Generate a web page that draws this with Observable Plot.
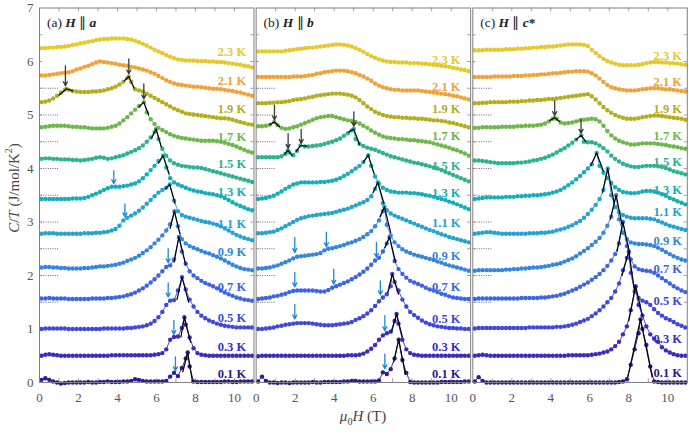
<!DOCTYPE html>
<html><head><meta charset="utf-8">
<script src="https://cdn.jsdelivr.net/npm/d3@7"></script>
<script src="https://cdn.jsdelivr.net/npm/@observablehq/plot@0.6"></script>
<style>body{margin:0;background:#fff;} #chart{width:689px;height:433px;} #chart svg text{font-family:'Liberation Serif',serif;}</style>
</head><body><div id="chart"></div>
<script>
const panels = ["a", "b", "c"];
const temps = ["0.1 K","0.3 K","0.5 K","0.7 K","0.9 K","1.1 K","1.3 K","1.5 K","1.7 K","1.9 K","2.1 K","2.3 K"];
const colors = ["#2d1b8f","#3a2cc2","#3f47dc","#3c64e4","#3585dd","#25a2cf","#17adb8","#2cb28e","#6cb84a","#b4ae1e","#f0a23a","#e6c72c"];
const field = [0.1,0.3,0.5,0.7,0.9,1.1,1.3,1.5,1.7,1.9,2.1,2.3,2.5,2.7,2.9,3.1,3.3,3.5,3.7,3.9,4.1,4.3,4.5,4.7,4.9,5.1,5.3,5.5,5.7,5.9,6.1,6.3,6.5,6.7,6.9,7.1,7.3,7.5,7.7,7.9,8.1,8.3,8.5,8.7,8.9,9.1,9.3,9.5,9.7,9.9,10.1,10.3,10.5,10.7,10.9];
const yTicks = [0,1,2,3,4,5,6,7];
const xTicks = [0,2,4,6,8,10];
const offsets = [0.5,1,1.5,2,2.5,3,3.5,4,4.5,5,5.5];
const yMinor = [0.5,1,1.5,2,2.5,3,3.5,4,4.5,5,5.5,6,6.5];
const xMinor = [1,2,3,4,5,6,7,8,9,10];

const curvesA = [
[0.05,0.08,0.05,0.02,0.00,-0.02,-0.01,0.00,0.00,0.00,0.00,0.00,0.01,0.00,0.00,0.01,0.01,0.02,0.01,0.01,0.01,0.02,0.02,0.03,0.06,0.05,0.03,0.02,0.02,0.02,0.02,0.02,0.03,0.11,0.18,0.12,0.27,0.45,0.3,0.02,0.01,0.01,0.01,0.01,0.01,0.01,0.01,0.02,0.02,0.01,0.01,0.02,0.02,0.02,0.02],
[0.5,0.52,0.53,0.52,0.51,0.5,0.5,0.5,0.5,0.5,0.5,0.5,0.5,0.5,0.5,0.5,0.5,0.5,0.51,0.51,0.51,0.51,0.51,0.51,0.51,0.51,0.51,0.51,0.51,0.52,0.53,0.55,0.62,0.8,0.85,0.86,1.02,1.08,0.84,0.64,0.55,0.52,0.51,0.5,0.5,0.5,0.5,0.5,0.5,0.5,0.5,0.5,0.5,0.5,0.5],
[1.0,1.01,1.01,1.01,1.01,1.01,1.01,1.0,1.0,1.0,1.0,1.0,1.0,1.0,1.0,1.0,1.01,1.01,1.01,1.01,1.01,1.01,1.02,1.02,1.03,1.04,1.05,1.07,1.1,1.15,1.22,1.32,1.45,1.53,1.54,1.72,1.93,1.74,1.55,1.42,1.32,1.25,1.2,1.16,1.13,1.1,1.08,1.06,1.05,1.04,1.03,1.03,1.03,1.03,1.03],
[1.57,1.57,1.58,1.57,1.57,1.57,1.57,1.56,1.56,1.56,1.56,1.56,1.56,1.57,1.57,1.57,1.57,1.58,1.58,1.59,1.6,1.61,1.63,1.65,1.68,1.72,1.76,1.81,1.87,1.93,2.0,2.08,2.16,2.19,2.3,2.66,2.45,2.22,2.08,2.0,1.95,1.9,1.86,1.83,1.8,1.76,1.72,1.68,1.65,1.62,1.59,1.57,1.55,1.54,1.53],
[2.15,2.16,2.16,2.15,2.15,2.14,2.14,2.13,2.13,2.13,2.13,2.14,2.14,2.15,2.16,2.17,2.17,2.18,2.19,2.2,2.22,2.24,2.27,2.3,2.33,2.37,2.42,2.47,2.53,2.6,2.67,2.75,2.84,2.96,3.15,2.92,2.68,2.6,2.55,2.52,2.49,2.46,2.43,2.41,2.38,2.35,2.32,2.28,2.24,2.2,2.17,2.14,2.12,2.11,2.1],
[2.78,2.79,2.79,2.79,2.78,2.78,2.78,2.78,2.78,2.78,2.78,2.79,2.79,2.79,2.8,2.8,2.81,2.82,2.84,2.87,2.93,3.03,3.08,3.12,3.16,3.21,3.27,3.34,3.41,3.48,3.55,3.6,3.64,3.68,3.4,3.2,3.13,3.1,3.08,3.06,3.04,3.02,3.0,2.99,2.97,2.95,2.92,2.88,2.84,2.8,2.76,2.73,2.7,2.68,2.66],
[3.43,3.43,3.43,3.43,3.43,3.43,3.43,3.43,3.44,3.44,3.44,3.45,3.47,3.5,3.53,3.56,3.6,3.63,3.66,3.66,3.66,3.67,3.68,3.7,3.72,3.76,3.82,3.89,3.97,4.05,4.14,4.22,4.02,3.82,3.74,3.7,3.67,3.64,3.61,3.59,3.57,3.56,3.54,3.53,3.52,3.5,3.48,3.45,3.41,3.37,3.33,3.3,3.27,3.24,3.22],
[4.18,4.19,4.19,4.18,4.18,4.17,4.17,4.17,4.16,4.16,4.15,4.16,4.17,4.18,4.2,4.21,4.2,4.18,4.19,4.21,4.23,4.25,4.28,4.31,4.34,4.38,4.43,4.5,4.58,4.68,4.55,4.37,4.24,4.15,4.1,4.07,4.05,4.04,4.03,4.02,4.02,4.01,3.99,3.97,3.95,3.93,3.91,3.89,3.87,3.85,3.83,3.81,3.79,3.77,3.75],
[4.77,4.78,4.79,4.8,4.8,4.8,4.8,4.79,4.78,4.78,4.77,4.77,4.76,4.75,4.75,4.75,4.75,4.76,4.78,4.8,4.84,4.9,4.96,5.03,5.1,5.17,5.22,5.05,4.92,4.83,4.76,4.72,4.68,4.64,4.61,4.59,4.57,4.56,4.55,4.54,4.53,4.52,4.52,4.52,4.52,4.51,4.5,4.48,4.46,4.44,4.41,4.38,4.35,4.32,4.3],
[5.24,5.25,5.27,5.31,5.36,5.42,5.47,5.47,5.45,5.44,5.43,5.43,5.43,5.44,5.44,5.45,5.46,5.48,5.5,5.53,5.57,5.62,5.69,5.62,5.48,5.46,5.44,5.4,5.36,5.32,5.28,5.24,5.2,5.16,5.12,5.09,5.06,5.03,5.02,5.01,5.0,4.99,4.98,4.97,4.96,4.95,4.94,4.94,4.93,4.91,4.89,4.87,4.85,4.83,4.82],
[5.74,5.74,5.75,5.76,5.77,5.78,5.79,5.8,5.82,5.85,5.87,5.9,5.92,5.95,5.98,6.0,5.99,5.98,5.97,5.96,5.94,5.93,5.92,5.9,5.89,5.87,5.85,5.83,5.8,5.77,5.73,5.69,5.65,5.62,5.59,5.57,5.56,5.55,5.54,5.53,5.53,5.52,5.51,5.5,5.49,5.49,5.48,5.47,5.46,5.45,5.43,5.42,5.4,5.38,5.36],
[6.25,6.25,6.26,6.26,6.27,6.27,6.28,6.29,6.31,6.32,6.34,6.35,6.37,6.38,6.4,6.41,6.42,6.42,6.43,6.43,6.43,6.43,6.42,6.41,6.39,6.36,6.33,6.3,6.26,6.22,6.19,6.16,6.12,6.09,6.06,6.04,6.03,6.02,6.02,6.02,6.01,6.01,6.01,6.0,6.0,5.99,5.99,5.98,5.97,5.96,5.95,5.94,5.92,5.91,5.89]
];
const curvesB = [
[0.02,0.11,0.03,0.0,0.0,-0.01,0.0,0.0,-0.01,0.0,0.0,0.0,0.0,0.0,0.01,0.0,0.0,0.01,0.01,0.01,0.01,0.01,0.02,0.02,0.03,0.03,0.02,0.02,0.02,0.02,0.02,0.04,0.19,0.16,0.25,0.45,0.7,0.42,0.18,0.01,0.0,0.0,0.0,0.0,0.0,0.0,0.0,0.01,0.01,0.01,0.01,0.01,0.01,0.02,0.02],
[0.49,0.5,0.5,0.5,0.5,0.5,0.5,0.5,0.5,0.5,0.5,0.5,0.5,0.5,0.5,0.5,0.5,0.5,0.5,0.5,0.5,0.5,0.5,0.51,0.51,0.51,0.52,0.54,0.58,0.63,0.7,0.8,0.88,0.92,0.95,1.15,1.1,0.8,0.62,0.55,0.52,0.51,0.5,0.5,0.5,0.5,0.5,0.5,0.5,0.5,0.5,0.5,0.5,0.5,0.5],
[1.0,1.0,1.01,1.02,1.03,1.05,1.06,1.08,1.09,1.1,1.11,1.11,1.11,1.11,1.1,1.09,1.08,1.07,1.07,1.07,1.08,1.09,1.1,1.11,1.13,1.17,1.2,1.24,1.29,1.35,1.43,1.52,1.59,1.65,1.8,1.88,1.72,1.55,1.42,1.32,1.26,1.21,1.16,1.12,1.09,1.07,1.05,1.04,1.03,1.02,1.02,1.01,1.01,1.0,1.0],
[1.56,1.57,1.58,1.59,1.61,1.62,1.64,1.66,1.69,1.71,1.72,1.72,1.72,1.72,1.72,1.71,1.7,1.7,1.73,1.77,1.8,1.83,1.86,1.89,1.93,1.97,2.02,2.07,2.13,2.2,2.28,2.33,2.45,2.6,2.55,2.27,2.12,2.03,1.96,1.9,1.87,1.84,1.81,1.77,1.74,1.72,1.69,1.66,1.64,1.61,1.59,1.58,1.57,1.56,1.56],
[2.13,2.13,2.14,2.15,2.17,2.19,2.22,2.25,2.28,2.32,2.35,2.36,2.37,2.38,2.39,2.4,2.42,2.47,2.5,2.51,2.53,2.55,2.57,2.6,2.62,2.65,2.68,2.72,2.77,2.83,2.92,3.03,3.2,2.95,2.75,2.62,2.55,2.49,2.45,2.42,2.39,2.37,2.35,2.33,2.31,2.29,2.26,2.24,2.21,2.19,2.17,2.15,2.13,2.11,2.09],
[2.79,2.79,2.8,2.81,2.82,2.85,2.88,2.92,2.96,3.0,3.04,3.07,3.09,3.11,3.12,3.13,3.14,3.15,3.16,3.17,3.19,3.21,3.23,3.25,3.28,3.31,3.34,3.37,3.41,3.48,3.62,3.55,3.35,3.22,3.16,3.12,3.09,3.06,3.03,3.0,2.97,2.94,2.91,2.88,2.85,2.83,2.8,2.77,2.75,2.72,2.7,2.68,2.66,2.64,2.62],
[3.43,3.44,3.45,3.47,3.49,3.53,3.57,3.62,3.66,3.7,3.72,3.74,3.74,3.74,3.74,3.74,3.75,3.75,3.76,3.77,3.79,3.82,3.86,3.9,3.95,4.0,4.05,4.12,4.2,4.05,3.85,3.72,3.64,3.6,3.57,3.56,3.55,3.55,3.55,3.54,3.54,3.53,3.52,3.5,3.49,3.47,3.45,3.43,3.41,3.38,3.36,3.33,3.3,3.27,3.24],
[4.21,4.21,4.21,4.21,4.21,4.21,4.23,4.27,4.3,4.25,4.33,4.42,4.41,4.41,4.42,4.43,4.44,4.46,4.48,4.5,4.53,4.56,4.61,4.66,4.71,4.55,4.46,4.42,4.39,4.37,4.35,4.32,4.29,4.26,4.23,4.21,4.19,4.17,4.15,4.13,4.11,4.1,4.08,4.06,4.04,4.02,4.0,3.97,3.94,3.91,3.88,3.85,3.82,3.79,3.76],
[4.79,4.79,4.8,4.82,4.86,4.81,4.76,4.74,4.75,4.77,4.79,4.82,4.85,4.88,4.91,4.94,4.96,4.97,4.98,4.98,4.96,4.94,4.92,4.9,4.89,4.87,4.84,4.8,4.76,4.71,4.67,4.63,4.6,4.58,4.57,4.56,4.55,4.55,4.54,4.53,4.53,4.52,4.51,4.5,4.49,4.47,4.45,4.43,4.41,4.39,4.36,4.34,4.31,4.28,4.24],
[5.22,5.22,5.22,5.23,5.23,5.24,5.24,5.25,5.26,5.28,5.29,5.3,5.31,5.33,5.34,5.36,5.37,5.38,5.39,5.4,5.4,5.4,5.39,5.38,5.36,5.33,5.28,5.22,5.16,5.11,5.06,5.03,5.0,4.98,4.97,4.96,4.96,4.95,4.95,4.94,4.94,4.93,4.93,4.92,4.91,4.9,4.9,4.89,4.88,4.86,4.85,4.83,4.81,4.79,4.77],
[5.71,5.71,5.71,5.71,5.71,5.71,5.71,5.71,5.71,5.72,5.72,5.72,5.73,5.74,5.75,5.77,5.78,5.8,5.81,5.82,5.83,5.83,5.83,5.82,5.8,5.78,5.75,5.72,5.68,5.64,5.59,5.55,5.52,5.5,5.48,5.47,5.47,5.46,5.46,5.46,5.46,5.46,5.45,5.44,5.43,5.42,5.41,5.4,5.39,5.38,5.36,5.35,5.33,5.31,5.29],
[6.19,6.19,6.19,6.19,6.19,6.19,6.19,6.2,6.21,6.22,6.23,6.24,6.25,6.26,6.26,6.27,6.28,6.29,6.3,6.31,6.32,6.32,6.31,6.3,6.28,6.25,6.22,6.18,6.14,6.1,6.07,6.04,6.02,6.0,5.99,5.99,5.98,5.98,5.98,5.97,5.97,5.97,5.96,5.96,5.95,5.94,5.93,5.92,5.91,5.9,5.88,5.87,5.85,5.84,5.82]
];
const curvesC = [
[0.02,0.1,0.03,0.0,0.0,0.0,0.0,0.0,0.0,0.0,0.0,0.0,0.0,0.0,0.0,0.0,0.0,0.0,0.0,0.0,0.0,0.0,0.0,0.0,0.0,0.0,0.0,0.0,0.0,0.0,0.0,0.0,0.0,0.0,0.0,0.0,0.0,0.01,0.02,0.06,0.33,0.62,0.92,1.0,0.7,0.3,0.02,0.01,0.0,0.0,0.0,0.0,0.0,0.0,0.0],
[0.5,0.51,0.52,0.51,0.5,0.5,0.5,0.5,0.5,0.5,0.5,0.5,0.5,0.5,0.5,0.5,0.5,0.5,0.5,0.5,0.5,0.5,0.5,0.5,0.51,0.51,0.51,0.51,0.51,0.51,0.52,0.53,0.54,0.56,0.58,0.62,0.68,0.76,0.9,1.05,1.35,1.7,1.45,1.25,1.05,0.9,0.82,0.76,0.66,0.6,0.56,0.53,0.51,0.5,0.5],
[1.01,1.02,1.02,1.02,1.02,1.02,1.02,1.02,1.02,1.02,1.02,1.02,1.02,1.02,1.03,1.03,1.03,1.03,1.03,1.03,1.03,1.04,1.04,1.05,1.06,1.08,1.1,1.13,1.16,1.19,1.24,1.29,1.35,1.42,1.5,1.58,1.7,1.85,2.1,2.33,2.05,1.7,1.58,1.53,1.5,1.45,1.37,1.3,1.25,1.2,1.17,1.13,1.09,1.06,1.03],
[1.56,1.57,1.57,1.57,1.57,1.57,1.57,1.57,1.57,1.57,1.57,1.57,1.58,1.58,1.58,1.58,1.58,1.59,1.59,1.6,1.61,1.62,1.64,1.66,1.69,1.72,1.75,1.79,1.83,1.87,1.92,1.97,2.03,2.1,2.18,2.28,2.4,2.6,2.9,2.55,2.3,2.17,2.12,2.1,2.09,2.08,2.05,2.0,1.95,1.9,1.85,1.8,1.76,1.72,1.69],
[2.09,2.1,2.1,2.1,2.1,2.1,2.1,2.1,2.11,2.11,2.12,2.12,2.13,2.13,2.14,2.15,2.15,2.16,2.17,2.18,2.2,2.21,2.23,2.26,2.29,2.32,2.36,2.41,2.46,2.51,2.57,2.63,2.7,2.8,2.93,3.1,3.35,3.05,2.8,2.68,2.62,2.6,2.59,2.59,2.58,2.57,2.55,2.52,2.48,2.44,2.4,2.36,2.33,2.3,2.28],
[2.78,2.79,2.8,2.81,2.81,2.8,2.79,2.78,2.78,2.78,2.78,2.78,2.78,2.78,2.79,2.79,2.79,2.8,2.8,2.81,2.82,2.84,2.86,2.88,2.91,2.94,2.98,3.02,3.08,3.15,3.23,3.32,3.43,3.6,3.9,3.5,3.28,3.18,3.13,3.1,3.08,3.07,3.07,3.07,3.07,3.06,3.05,3.02,2.99,2.96,2.93,2.91,2.89,2.87,2.85],
[3.43,3.44,3.45,3.46,3.46,3.46,3.46,3.46,3.47,3.47,3.47,3.48,3.48,3.49,3.49,3.5,3.5,3.51,3.52,3.53,3.55,3.57,3.6,3.64,3.69,3.74,3.8,3.86,3.93,4.0,4.08,4.2,4.05,3.92,3.82,3.73,3.65,3.6,3.56,3.55,3.54,3.54,3.55,3.57,3.58,3.58,3.57,3.55,3.52,3.49,3.45,3.42,3.39,3.36,3.33],
[4.15,4.15,4.14,4.13,4.12,4.11,4.1,4.1,4.1,4.1,4.1,4.11,4.11,4.12,4.13,4.15,4.16,4.18,4.2,4.23,4.26,4.3,4.34,4.38,4.43,4.48,4.54,4.55,4.5,4.49,4.49,4.47,4.43,4.38,4.32,4.24,4.18,4.13,4.09,4.06,4.04,4.03,4.03,4.04,4.05,4.05,4.05,4.04,4.03,4.01,3.98,3.95,3.93,3.91,3.89],
[4.76,4.76,4.77,4.77,4.77,4.77,4.77,4.78,4.78,4.78,4.78,4.79,4.79,4.8,4.8,4.8,4.81,4.82,4.84,4.88,4.93,4.93,4.86,4.84,4.85,4.86,4.88,4.9,4.91,4.92,4.93,4.92,4.88,4.8,4.7,4.62,4.56,4.52,4.49,4.47,4.45,4.45,4.46,4.47,4.47,4.47,4.47,4.46,4.45,4.44,4.42,4.41,4.4,4.38,4.37],
[5.22,5.22,5.23,5.23,5.24,5.24,5.24,5.24,5.24,5.25,5.25,5.25,5.26,5.26,5.27,5.27,5.28,5.28,5.29,5.3,5.3,5.31,5.32,5.33,5.34,5.35,5.36,5.37,5.38,5.39,5.35,5.29,5.22,5.15,5.09,5.04,5.0,4.97,4.95,4.93,4.93,4.93,4.94,4.96,4.97,4.98,4.99,4.99,4.98,4.97,4.96,4.95,4.94,4.93,4.91],
[5.71,5.71,5.71,5.71,5.71,5.72,5.72,5.72,5.72,5.72,5.73,5.73,5.73,5.74,5.74,5.75,5.75,5.76,5.76,5.77,5.78,5.78,5.79,5.8,5.81,5.81,5.82,5.82,5.82,5.81,5.78,5.74,5.68,5.62,5.56,5.52,5.5,5.48,5.47,5.46,5.46,5.46,5.47,5.48,5.49,5.5,5.5,5.5,5.49,5.48,5.48,5.47,5.46,5.45,5.44],
[6.21,6.21,6.21,6.22,6.22,6.22,6.22,6.22,6.23,6.23,6.23,6.24,6.24,6.25,6.25,6.26,6.26,6.27,6.27,6.28,6.28,6.29,6.3,6.31,6.32,6.32,6.32,6.32,6.31,6.29,6.22,6.16,6.1,6.05,6.01,5.98,5.96,5.94,5.93,5.93,5.93,5.93,5.94,5.95,5.97,5.98,5.99,5.99,5.98,5.98,5.97,5.97,5.96,5.95,5.94]
];

const apexA = [[[7.6,0.56]],[[7.43,1.22]],[[7.31,1.97]],[[7.15,2.72]],[[6.92,3.2]],[[6.68,3.7]],[[6.34,4.24]],[[5.98,4.74]],[[5.35,5.24]],[[1.38,5.49],[4.58,5.72]],[],[]];
const apexB = [[[7.31,0.8]],[[7.2,1.28]],[[6.98,2.03]],[[6.84,2.72]],[[6.58,3.28]],[[6.24,3.74]],[[5.75,4.25]],[[1.63,4.34],[2.27,4.43],[5.0,4.74]],[[0.93,4.87]],[],[],[]];
const apexC = [[[8.6,1.18]],[[8.35,1.8]],[[8.0,2.45]],[[7.7,3.0]],[[7.35,3.5]],[[6.92,4.0]],[[6.35,4.29]],[[5.56,4.62]],[[4.2,4.95]],[],[],[]];

const fitsA = [[7.35,0.2,7.6,0.56,7.85,0.0],[7.25,0.85,7.43,1.22,7.75,0.75],[7.05,1.55,7.31,1.97,7.65,1.5],[6.9,2.25,7.15,2.72,7.5,2.2],[6.7,2.88,6.92,3.2,7.2,2.78],[6.45,3.62,6.68,3.7,6.95,3.35],[6.1,4.1,6.34,4.24,6.65,3.9],[5.75,4.57,5.98,4.74,6.25,4.4],[5.1,5.15,5.35,5.24,5.6,5.0],[4.35,5.64,4.58,5.72,4.85,5.5],[1.0,5.37,1.38,5.49,1.7,5.45]];
const fitsB = [[7.05,0.38,7.31,0.8,7.65,0.15],[6.95,0.95,7.2,1.28,7.5,0.85],[6.75,1.68,6.98,2.03,7.3,1.65],[6.6,2.52,6.84,2.72,7.15,2.25],[6.35,3.1,6.58,3.28,6.9,2.8],[6.0,3.55,6.24,3.74,6.55,3.35],[5.5,4.12,5.75,4.25,6.05,3.9],[4.75,4.68,5.0,4.74,5.3,4.45],[1.45,4.27,1.63,4.34,1.85,4.24],[2.05,4.32,2.27,4.43,2.6,4.42],[0.7,4.82,0.93,4.87,1.2,4.78]];
const fitsC = [[7.95,0.1,8.6,1.18,9.2,0.1],[8.0,1.15,8.35,1.8,8.7,1.25],[7.65,2.0,8.0,2.45,8.3,1.7],[7.4,2.45,7.7,3.0,8.05,2.4],[7.05,3.05,7.35,3.5,7.65,2.95],[6.65,3.55,6.92,4.0,7.25,3.35],[6.05,4.05,6.35,4.29,6.7,3.95],[5.3,4.54,5.56,4.62,5.8,4.5],[3.95,4.9,4.2,4.95,4.45,4.88]];

const arrowsA = [[1.33,5.92,5.55,"k"],[4.58,6.05,5.77,"k"],[5.35,5.58,5.3,"k"],[3.81,3.96,3.72,"b"],[4.38,3.34,3.1,"b"],[6.6,2.5,2.24,"b"],[6.6,1.86,1.6,"b"],[6.89,1.16,0.9,"b"],[6.97,0.48,0.22,"b"]];
const arrowsB = [[0.94,5.18,4.91,"k"],[1.64,4.65,4.38,"k"],[2.31,4.73,4.47,"k"],[5.01,5.06,4.79,"k"],[1.98,2.71,2.43,"b"],[3.6,2.81,2.54,"b"],[1.98,2.06,1.79,"b"],[3.98,2.12,1.84,"b"],[1.98,1.46,1.19,"b"],[6.17,2.62,2.34,"b"],[6.37,1.9,1.64,"b"],[6.6,1.25,0.97,"b"],[6.6,0.53,0.26,"b"]];
const arrowsC = [[4.2,5.27,4.99,"k"],[5.55,4.93,4.66,"k"]];

const labelYA = [0.15,0.66,1.2,1.79,2.44,2.97,3.56,4.09,4.58,5.12,5.64,6.17];
const labelYB = [0.16,0.66,1.18,1.78,2.37,2.98,3.54,4.04,4.6,5.12,5.53,6.03];
const labelYC = [0.17,0.82,1.53,2.12,2.65,3.18,3.6,4.12,4.6,5.12,5.61,6.11];
const labelX = [10.6, 10.48, 10.73];
const titles = ["(a) H ∥ a", "(b) H ∥ b", "(c) H ∥ c*"];

const arrowColor = {k: "#3a3a3a", b: "#1e88d6"};

const sets = [[curvesA, apexA, fitsA, arrowsA, labelYA], [curvesB, apexB, fitsB, arrowsB, labelYB], [curvesC, apexC, fitsC, arrowsC, labelYC]];
const rows = [], fitRows = [], arrowRows = [], labelRows = [], titleRows = [];
sets.forEach(([curves, apexes, fits, arrows, labY], p) => {
  const panel = panels[p];
  curves.forEach((vals, i) => {
    const ap = apexes[i];
    const pts = field.map((x, k) => ({x, y: vals[k]}))
      .filter(pt => !ap.some(a => Math.abs(a[0] - pt.x) < 0.065));
    ap.forEach(a => pts.push({x: a[0], y: a[1]}));
    pts.sort((u, v) => u.x - v.x);
    pts.forEach(pt => rows.push({panel, i, key: panel + i, x: pt.x, y: pt.y}));
    labelRows.push({panel, i, x: labelX[p], y: labY[i], text: temps[i]});
  });
  fits.forEach((f, j) => {
    for (let m = 0; m < 3; m++) fitRows.push({panel, key: panel + "f" + j, x: f[2*m], y: f[2*m+1]});
  });
  arrows.forEach(a => arrowRows.push({panel, x: a[0], y1: a[1], y2: a[2], c: arrowColor[a[3]]}));
  titleRows.push({panel, text: titles[p]});
});

const plot = Plot.plot({
  width: 689, height: 433,
  marginLeft: 39, marginRight: 2.2, marginTop: 7.5, marginBottom: 51,
  style: {fontFamily: "'Liberation Serif', serif", fontSize: "13px", color: "#555", background: "#fff", overflow: "visible"},
  fx: {domain: panels, paddingInner: 0.01, paddingOuter: 0, axis: null, label: null, round: false},
  x: {domain: [0, 11], ticks: xTicks, tickFormat: d => String(d), tickSize: 0, tickPadding: 10, label: null},
  y: {domain: [0, 7], ticks: yTicks, tickFormat: d => String(d), tickSize: 0, tickPadding: 6, label: null},
  marks: [
    Plot.ruleY(offsets, {y: d => d, x1: 0.1, x2: 1.0, stroke: "#444", strokeWidth: 0.8, strokeDasharray: "1,1.3"}),
    Plot.ruleY(yMinor, {y: d => d, x1: 0, x2: 0.16, stroke: "#888", strokeWidth: 0.8}),
    Plot.ruleY(yMinor, {y: d => d, x1: 10.84, x2: 11, stroke: "#888", strokeWidth: 0.8}),
    Plot.ruleX(xMinor, {x: d => d, y1: 0, y2: 0.07, stroke: "#888", strokeWidth: 0.8}),
    Plot.ruleX(xMinor, {x: d => d, y1: 6.93, y2: 7, stroke: "#888", strokeWidth: 0.8}),
    Plot.line(rows, {fx: "panel", x: "x", y: "y", z: "key", stroke: d => colors[d.i], strokeWidth: 0.9}),
    Plot.dot(rows, {fx: "panel", x: "x", y: "y", r: 2.2, fill: d => colors[d.i], stroke: "none"}),
    Plot.line(fitRows, {fx: "panel", x: "x", y: "y", z: "key", stroke: "#000", strokeWidth: 1.2}),
    Plot.arrow(arrowRows, {fx: "panel", x1: "x", y1: "y1", x2: "x", y2: "y2", stroke: "c", strokeWidth: 1.3, headLength: 5, headAngle: 55}),
    Plot.text(labelRows, {fx: "panel", x: "x", y: "y", text: "text", fill: d => colors[d.i], textAnchor: "end", fontWeight: "bold", fontSize: 12.5}),
    Plot.text(titleRows, {fx: "panel", x: 0.38, y: 6.73, text: "text", textAnchor: "start", fill: "#222", fontSize: 13.5}),
    Plot.frame({stroke: "#808080", strokeWidth: 1})
  ]
});
document.getElementById("chart").appendChild(plot);

// rich text for panel titles
const svg = d3.select(plot.tagName.toLowerCase() === "svg" ? plot : plot.querySelector("svg"));
svg.selectAll("text").each(function() {
  const t = this.textContent;
  const m = /^\(([abc])\) H ∥ ([abc])(\*?)$/.exec(t);
  if (!m) return;
  const el = d3.select(this);
  el.text(null);
  el.append("tspan").text("(" + m[1] + ") ");
  el.append("tspan").attr("font-weight", "bold").attr("font-style", "italic").text("H");
  el.append("tspan").text(" ∥ ");
  el.append("tspan").attr("font-weight", "bold").attr("font-style", "italic").text(m[2]);
  if (m[3]) el.append("tspan").attr("font-weight", "bold").text("*");
});

// axis titles
const yl = svg.append("text")
  .attr("transform", "translate(16,188) rotate(-90)")
  .attr("text-anchor", "middle").attr("dominant-baseline", "middle")
  .attr("fill", "#444").attr("font-size", 15);
yl.append("tspan").attr("font-style", "italic").text("C");
yl.append("tspan").text("/");
yl.append("tspan").attr("font-style", "italic").text("T");
yl.append("tspan").text(" (J/mol/K");
yl.append("tspan").attr("font-size", 10).attr("dy", -6).text("2");
yl.append("tspan").attr("dy", 6).text(")");

const xl = svg.append("text")
  .attr("x", 363).attr("y", 421)
  .attr("text-anchor", "middle")
  .attr("fill", "#444").attr("font-size", 15);
xl.append("tspan").attr("font-style", "italic").text("μ");
xl.append("tspan").attr("font-size", 10).attr("dy", 4).text("0");
xl.append("tspan").attr("font-style", "italic").attr("dy", -4).text("H");
xl.append("tspan").text(" (T)");
</script></body></html>
